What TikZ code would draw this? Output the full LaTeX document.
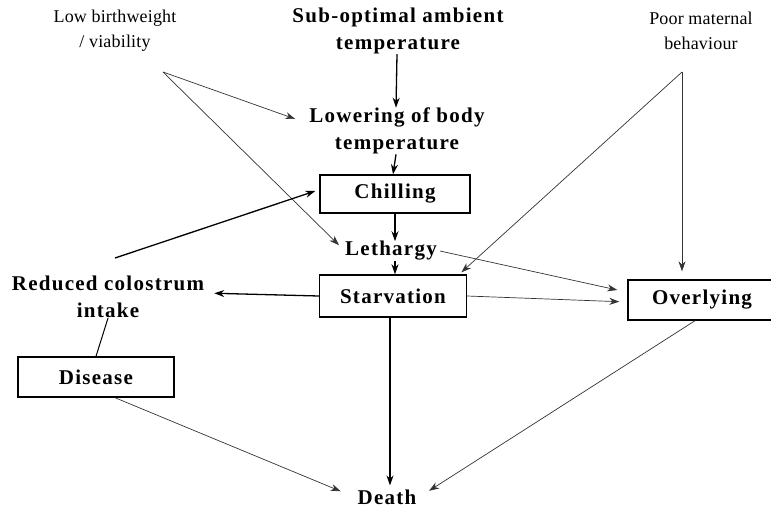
\documentclass[tikz,border=0pt]{standalone}
\usepackage{fontspec}
\setmainfont{Liberation Serif}
\newfontfamily\widefont[LetterSpace=6]{Liberation Serif}
\newfontfamily\smallfont[LetterSpace=1]{Liberation Serif}
\usetikzlibrary{arrows.meta}
\tikzset{
  x=1pt, y=-1pt,
  big/.style={font=\widefont\bfseries\fontsize{21}{27}\selectfont, align=center, inner sep=0pt},
  small/.style={font=\smallfont\fontsize{18}{25}\selectfont, align=center, inner sep=0pt},
  boxed/.style={big, draw, line width=1.4pt, minimum width=#1, minimum height=40pt},
  thin/.style={line width=0.7pt, draw=black!80, -{Stealth[length=10pt,width=7pt]}},
  thick/.style={line width=1.3pt, -{Stealth[length=10pt,width=7pt]}},
  plain/.style={line width=1pt}
}
\begin{document}
\begin{tikzpicture}
\useasboundingbox (0,0) rectangle (771,509);
% text nodes
\node[small] (lbw) at (115,31) {Low birthweight\\/ viability};
\node[big] (sub) at (398,31) {Sub-optimal ambient\\temperature};
\node[small] (pmb) at (701,31) {Poor maternal\\behaviour};
\node[big] (low) at (397,131) {Lowering of body\\temperature};
\node[boxed=150pt, minimum height=38pt] (chill) at (395,194) {Chilling};
\node[big] (leth) at (391,251) {Lethargy};
\node[boxed=147pt, minimum height=42pt] (starv) at (393,296) {Starvation};
\node[big] (red) at (108,297) {Reduced colostrum\\intake};
\node[boxed=156pt] (dis) at (96,377) {Disease};
\node[boxed=148pt] (over) at (702,300) {Overlying};
\node[big] (death) at (387,497) {Death};
% free ends
\coordinate (lbwA) at (163,72);
\coordinate (pmbA) at (682,72);
\coordinate (redA) at (115,258);
% connectors
\draw[thick] ([xshift=-1pt]sub.south) -- ([xshift=-1pt]low.north);
\draw[thick] ([xshift=-1pt]low.south) -- ([xshift=-2pt]chill.north);
\draw[thick] (chill.south) -- ([xshift=4pt]leth.north);
\draw[thick] ([xshift=4pt]leth.south) -- ([xshift=2pt]starv.north);
\draw[thin] (lbwA) -- ([xshift=-14pt,yshift=12pt]low.west);
\draw[thin] (lbwA) -- ([xshift=-6pt,yshift=-4pt]leth.north west);
\draw[thick] (redA) -- ([xshift=-4pt,yshift=3pt]chill.west);
\draw[thin, shorten >=3pt] (pmbA) -- ([xshift=-8pt]starv.north east);
\draw[thin, shorten >=8pt] (pmbA) -- (over.north -| pmbA);
\draw[thin] ([xshift=3pt]leth.east) -- ([xshift=-10pt,yshift=10pt]over.west);
\draw[thin, shorten >=8pt] (starv.east) -- ([yshift=-2pt]over.west);
\draw[thick, shorten >=10pt] (starv.west) -- ([yshift=4pt]red.east);
\draw[plain] (red.south) -- (dis.north);
\draw[thin, shorten >=3pt] ([xshift=19pt]dis.south) -- ([xshift=-14pt,yshift=-3pt]death.north west);
\draw[thick, shorten >=4pt] ([xshift=-3pt]starv.south) -- ([xshift=3pt]death.north);
\draw[thin, shorten >=3pt] ([xshift=-7pt]over.south) -- ([xshift=10pt,yshift=-3pt]death.north east);
\end{tikzpicture}
\end{document}
